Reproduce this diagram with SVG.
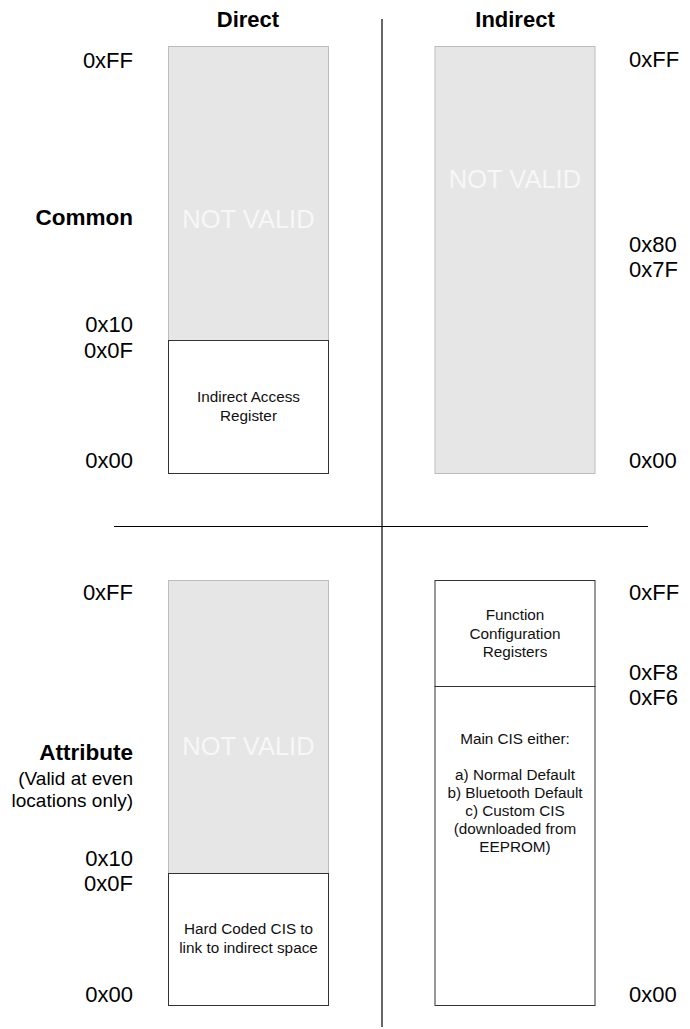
<svg xmlns="http://www.w3.org/2000/svg" width="690" height="1029" viewBox="0 0 690 1029">
<style>
text{font-family:"Liberation Sans",Arial,sans-serif;fill:#000}
.h{font-size:22px;font-weight:bold;text-anchor:middle}
.lb{font-size:22px;text-anchor:end}
.rb{font-size:22px;text-anchor:start}
.bl{font-size:22.5px;font-weight:bold;text-anchor:end}
.sm{font-size:19px;text-anchor:end}
.nv{font-size:25.5px;fill:#f7f7f7;text-anchor:middle}
.in{font-size:15.3px;text-anchor:middle;fill:#111}
.gray{fill:#e6e6e6;stroke:#bdbdbd;stroke-width:1}
.box{fill:#fff;stroke:#333;stroke-width:1}
.ln{stroke:#000;stroke-width:1.2}
</style>
<g id="connectors">
<line class="ln" x1="382" y1="19" x2="382" y2="1027"/>
<line class="ln" x1="114" y1="526.5" x2="648" y2="526.5"/>
</g>
<g id="headers">
<text class="h" x="248" y="27">Direct</text>
<text class="h" x="515" y="27">Indirect</text>
</g>
<g id="common-direct">
<rect class="gray" x="168.5" y="46.5" width="160" height="294"/>
<text class="nv" x="248.5" y="228">NOT VALID</text>
<rect class="box" x="168.5" y="340.5" width="160" height="133"/>
<text class="in" x="248.5" y="402">Indirect Access</text>
<text class="in" x="248.5" y="421">Register</text>
</g>
<g id="common-indirect">
<rect class="gray" x="435" y="46.5" width="160" height="427"/>
<text class="nv" x="515" y="188">NOT VALID</text>
</g>
<g id="attr-direct">
<rect class="gray" x="168.5" y="580.5" width="160" height="293"/>
<text class="nv" x="248.5" y="755">NOT VALID</text>
<rect class="box" x="168.5" y="873.5" width="160" height="132"/>
<text class="in" x="248.5" y="934">Hard Coded CIS to</text>
<text class="in" x="248.5" y="953">link to indirect space</text>
</g>
<g id="attr-indirect">
<rect class="box" x="435" y="580.5" width="160" height="106"/>
<text class="in" x="515" y="620">Function</text>
<text class="in" x="515" y="638.5">Configuration</text>
<text class="in" x="515" y="657">Registers</text>
<rect class="box" x="435" y="686.5" width="160" height="319"/>
<text class="in" x="515" y="744">Main CIS either:</text>
<text class="in" x="515" y="780">a) Normal Default</text>
<text class="in" x="515" y="798">b) Bluetooth Default</text>
<text class="in" x="515" y="816">c) Custom CIS</text>
<text class="in" x="515" y="834">(downloaded from</text>
<text class="in" x="515" y="852">EEPROM)</text>
</g>
<g id="labels-left">
<text class="lb" x="133" y="68">0xFF</text>
<text class="bl" x="133" y="225">Common</text>
<text class="lb" x="133" y="332">0x10</text>
<text class="lb" x="133" y="357.5">0x0F</text>
<text class="lb" x="133" y="468">0x00</text>
<text class="lb" x="133" y="600">0xFF</text>
<text class="bl" x="133" y="760">Attribute</text>
<text class="sm" x="133" y="785">(Valid at even</text>
<text class="sm" x="133" y="807">locations only)</text>
<text class="lb" x="133" y="865.5">0x10</text>
<text class="lb" x="133" y="891">0x0F</text>
<text class="lb" x="133" y="1002">0x00</text>
</g>
<g id="labels-right">
<text class="rb" x="629" y="67">0xFF</text>
<text class="rb" x="629" y="251.5">0x80</text>
<text class="rb" x="629" y="277">0x7F</text>
<text class="rb" x="629" y="468">0x00</text>
<text class="rb" x="629" y="600">0xFF</text>
<text class="rb" x="629" y="679.5">0xF8</text>
<text class="rb" x="629" y="705">0xF6</text>
<text class="rb" x="629" y="1002">0x00</text>
</g>
</svg>
